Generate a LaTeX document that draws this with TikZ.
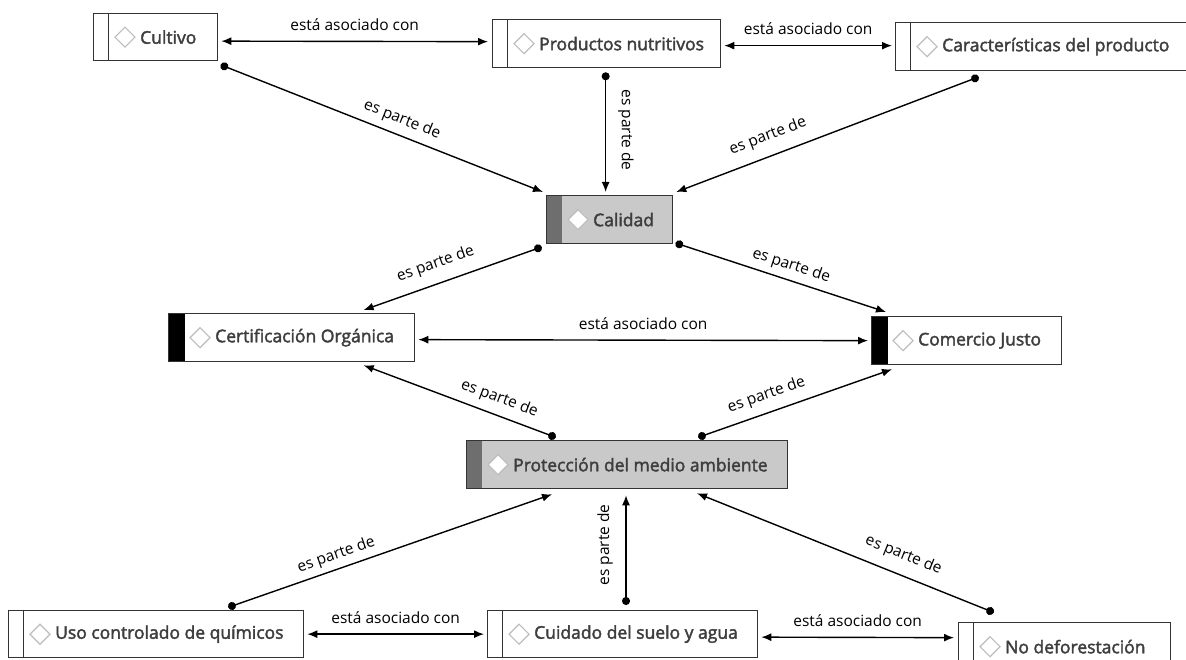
\documentclass[tikz,border=0pt]{standalone}
\usepackage{fontspec}
\setmainfont{Open Sans}
\newfontfamily\nodefont{Open Sans}[FakeBold=2.2]
\usetikzlibrary{arrows.meta,calc}
\definecolor{bordc}{HTML}{333333}
\definecolor{txtc}{HTML}{3E3E3E}
\definecolor{grayfill}{HTML}{C9C9C9}
\definecolor{stripgray}{HTML}{6E6E6E}
\definecolor{diac}{HTML}{BDBDBD}
\tikzset{
  box/.style={draw=bordc, line width=1.3pt, anchor=north west, inner sep=0pt, fill=white},
  plainstrip/.style={path picture={\draw[bordc, line width=1.3pt] ([xshift=15pt]path picture bounding box.north west) -- ([xshift=15pt]path picture bounding box.south west);}},
  blackstrip/.style={path picture={\fill[black] (path picture bounding box.north west) rectangle ([xshift=16pt]path picture bounding box.south west);}},
  graystrip/.style={fill=grayfill, path picture={\fill[stripgray] (path picture bounding box.north west) rectangle ([xshift=15pt]path picture bounding box.south west);}},
  ntxt/.style={anchor=west, text=txtc, font=\nodefont\fontsize{17.5}{20}\selectfont, inner sep=0pt},
  dia/.style={draw=diac, line width=1.2pt, fill=white},
  lbl/.style={font=\fontsize{15.5}{18}\selectfont, text=black, inner sep=2pt},
  conn/.style={line width=1.4pt, black},
  dot/.style={conn, {Circle[length=8pt]}-{Latex[length=10pt,width=8pt]}, shorten <=-4pt},
  both/.style={conn, {Latex[length=10pt,width=8pt]}-{Latex[length=10pt,width=8pt]}},
}
\newcommand\cmbox[7]{%
  \node[box,#6, minimum width=#4, minimum height=#5] (#1) at (#2,#3) {};
  \draw[dia] ($(#1.west)+(32,0)$) +(-10,0) -- +(0,-10) -- +(10,0) -- +(0,10) -- cycle;
  \node[ntxt] (#1-t) at ($(#1.west)+(47,0)$) {#7};
}
\begin{document}
\begin{tikzpicture}[x=1pt,y=-1pt]
\useasboundingbox (0,0) rectangle (1186,660);
\fill[white] (0,0) rectangle (1186,660);

\cmbox{cult}{93}{13}{124}{47}{plainstrip}{Cultivo}
\cmbox{prod}{492}{19}{228}{48}{plainstrip}{Productos nutritivos}
\cmbox{carac}{895}{22}{300}{48}{plainstrip}{Características del producto}
\cmbox{cal}{546}{195}{126}{48}{graystrip}{Calidad}
\cmbox{cert}{168}{313}{246}{48}{blackstrip}{Certificación Orgánica}
\cmbox{com}{871}{316}{190}{48}{blackstrip}{Comercio Justo}
\cmbox{prot}{466}{440}{321}{48}{graystrip}{Protección del medio ambiente}
\cmbox{uso}{8}{610}{295}{47}{plainstrip}{Uso controlado de químicos}
\cmbox{cuid}{487}{610}{270}{47}{plainstrip}{Cuidado del suelo y agua}
\cmbox{nodef}{958}{622}{212}{48}{plainstrip}{No deforestación}

% asociaciones
\draw[both] ($(cult.east)+(3,4)$) -- node[lbl, midway, above=8pt] (l1) {está asociado con} ($(prod.west)+(-4,-2)$);
\draw[both] ($(prod.east)+(3,2)$) -- node[lbl, midway, above=8pt] (l2) {está asociado con} ($(carac.west)+(-3,-1)$);
\draw[both] ($(cert.east)+(3,2)$) -- node[lbl, midway, above=8pt] (l8) {está asociado con} ($(com.west)+(-3,0)$);
\draw[both] ($(uso.east)+(3,0)$) -- node[lbl, midway, above=8pt] (l14) {está asociado con} ($(cuid.west)+(-3,0)$);
\draw[both] ($(cuid.east)+(3,3)$) -- node[lbl, midway, above=8pt] (l15) {está asociado con} ($(nodef.west)+(-4,-9)$);

% es parte de
\draw[dot] ($(cult.south east)+(6,5)$) -- node[lbl, pos=0.54, sloped, above=5pt] (l3) {es parte de} ($(cal.north west)+(-3,-3)$);
\draw[dot] ($(prod.south)+(-1,8)$) coordinate (p4) -- (p4 |- {$(cal.north)+(0,-3)$});
\node[lbl, rotate=-90] (l4) at (626,130) {es parte de};
\draw[dot] ($(carac.south west)+(80,7)$) -- node[lbl, pos=0.67, sloped, above=9pt] (l5) {es parte de} ($(cal.north east)+(3,-3)$);
\draw[dot] ($(cal.south west)+(-8,4)$) -- node[lbl, pos=0.55, sloped, above=9pt] (l6) {es parte de} ($(cert.north)+(72,-3)$);
\draw[dot] ($(cal.south east)+(6,0)$) -- node[lbl, pos=0.52, sloped, above=4pt] (l7) {es parte de} ($(com.north west)+(15,-4)$);
\draw[dot] ($(prot.north west)+(86,-4)$) -- node[lbl, pos=0.31, sloped, above=6pt] (l9) {es parte de} ($(cert.south)+(72,3)$);
\draw[dot] ($(prot.north west)+(236,-4)$) -- node[lbl, pos=0.37, sloped, above=7pt] (l10) {es parte de} ($(com.south west)+(21,4)$);
\draw[dot] ($(uso.north west)+(224,-4)$) -- node[lbl, pos=0.34, sloped, above=3pt] (l11) {es parte de} ($(prot.south west)+(86,5)$);
\draw[dot] ($(cuid.north west)+(139,-9)$) coordinate (p12) -- (p12 |- {$(prot.south)+(0,6)$});
\node[lbl, rotate=90] (l12) at (605,545) {es parte de};
\draw[dot] ($(nodef.north west)+(32,-11)$) -- node[lbl, pos=0.32, sloped, above=9pt] (l13) {es parte de} ($(prot.south west)+(231,4)$);
\end{tikzpicture}
\end{document}
